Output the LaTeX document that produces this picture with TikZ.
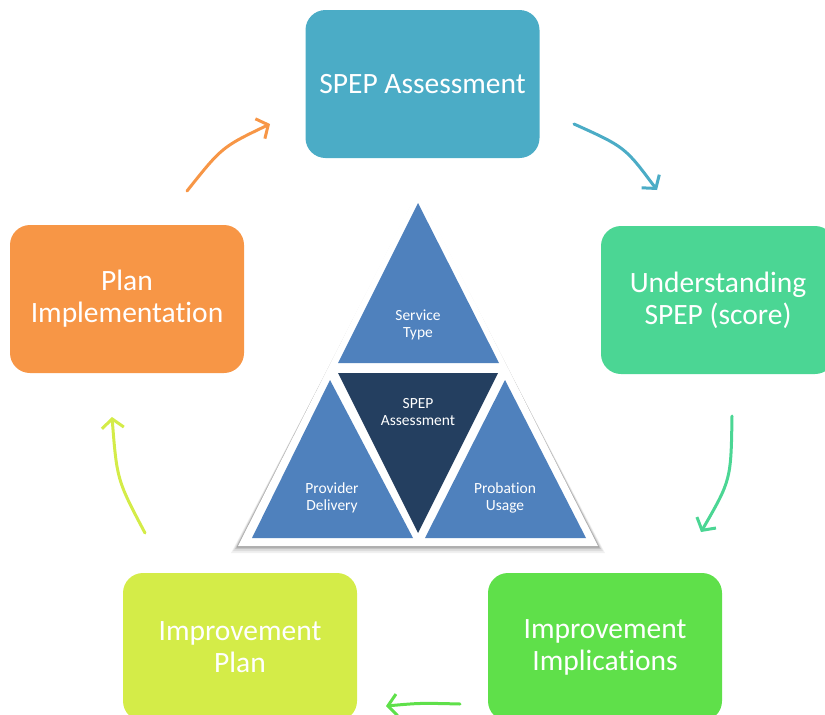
\documentclass[tikz,border=0pt]{standalone}
\usepackage{fontspec}
\setmainfont{Carlito}[Ligatures=NoCommon]
\usetikzlibrary{arrows.meta}
\definecolor{cteal}{HTML}{4BACC6}
\definecolor{cmint}{HTML}{4BD694}
\definecolor{cgreen}{HTML}{5FE04A}
\definecolor{clime}{HTML}{D4EC48}
\definecolor{corange}{HTML}{F79646}
\definecolor{cblue}{HTML}{4F81BD}
\definecolor{cnavy}{HTML}{243F60}
\begin{document}
\begin{tikzpicture}[x=1pt,y=-1pt,
  box/.style={rounded corners=20pt, minimum width=234pt, minimum height=148pt,
    text=white, font=\fontsize{29.5}{32}\selectfont, align=center, inner sep=0pt},
  flow/.style={line width=3pt, line cap=round, -{Straight Barb[length=9pt,width=22pt]}},
  tri/.style={text=white, font=\fontsize{15.5}{17}\selectfont, align=center}]
\useasboundingbox (0,0) rectangle (825,715);
\clip (0,0) rectangle (825,715);
% boxes
\node[box, fill=cteal]   (assess) at (422.5,84)  {SPEP Assessment};
\node[box, fill=cmint]   (under)  at (718,300)   {Understanding\\SPEP (score)};
\node[box, fill=cgreen]  (impl)   at (605,647)   {Improvement\\Implications};
\node[box, fill=clime]   (plan)   at (240,647)   {Improvement\\Plan};
\node[box, fill=corange] (pimp)   at (127,299)   {Plan\\Implementation};
% arrow end points
\coordinate (o1) at (187,191); \coordinate (o2) at (270,124);
\coordinate (t1) at (574,124); \coordinate (t2) at (657,190);
\coordinate (m1) at (732,416); \coordinate (m2) at (701,532);
\coordinate (g1) at (460,704); \coordinate (g2) at (386,706);
\coordinate (l1) at (145,533); \coordinate (l2) at (112,417);
\draw[flow, corange] (o1) .. controls (222,147) .. (o2);
\draw[flow, cteal]   (t1) .. controls (625,147) .. (t2);
\draw[flow, cmint]   (m1) .. controls (731,480) .. (m2);
\draw[flow, cgreen]  (g1) .. controls (420,703) .. (g2);
\draw[flow, clime]   (l1) .. controls (117,480) .. (l2);
% triangle shadow
\foreach \d/\o in {7/0.06,5/0.08,3/0.12,1.5/0.15}
  \fill[black, opacity=\o] (418,190+\d) -- (238-\d,546+\d) -- (598+\d,546+\d) -- cycle;
\fill[white] (418,190) -- (238,546) -- (598,546) -- cycle;
% triangles
\fill[cblue] (418,203) -- (338,363) -- (499,363) -- cycle;
\fill[cnavy] (338,373) -- (498,373) -- (418,533) -- cycle;
\fill[cblue] (330,380) -- (252,538) -- (413,538) -- cycle;
\fill[cblue] (505,380) -- (425,538) -- (586,538) -- cycle;
\node[tri] (st) at (418,325) {Service\\Type};
\node[tri] (sa) at (418,412) {SPEP\\Assessment};
\node[tri] (pd) at (332,498) {Provider\\Delivery};
\node[tri] (pu) at (505,498) {Probation\\Usage};
\end{tikzpicture}
\end{document}
